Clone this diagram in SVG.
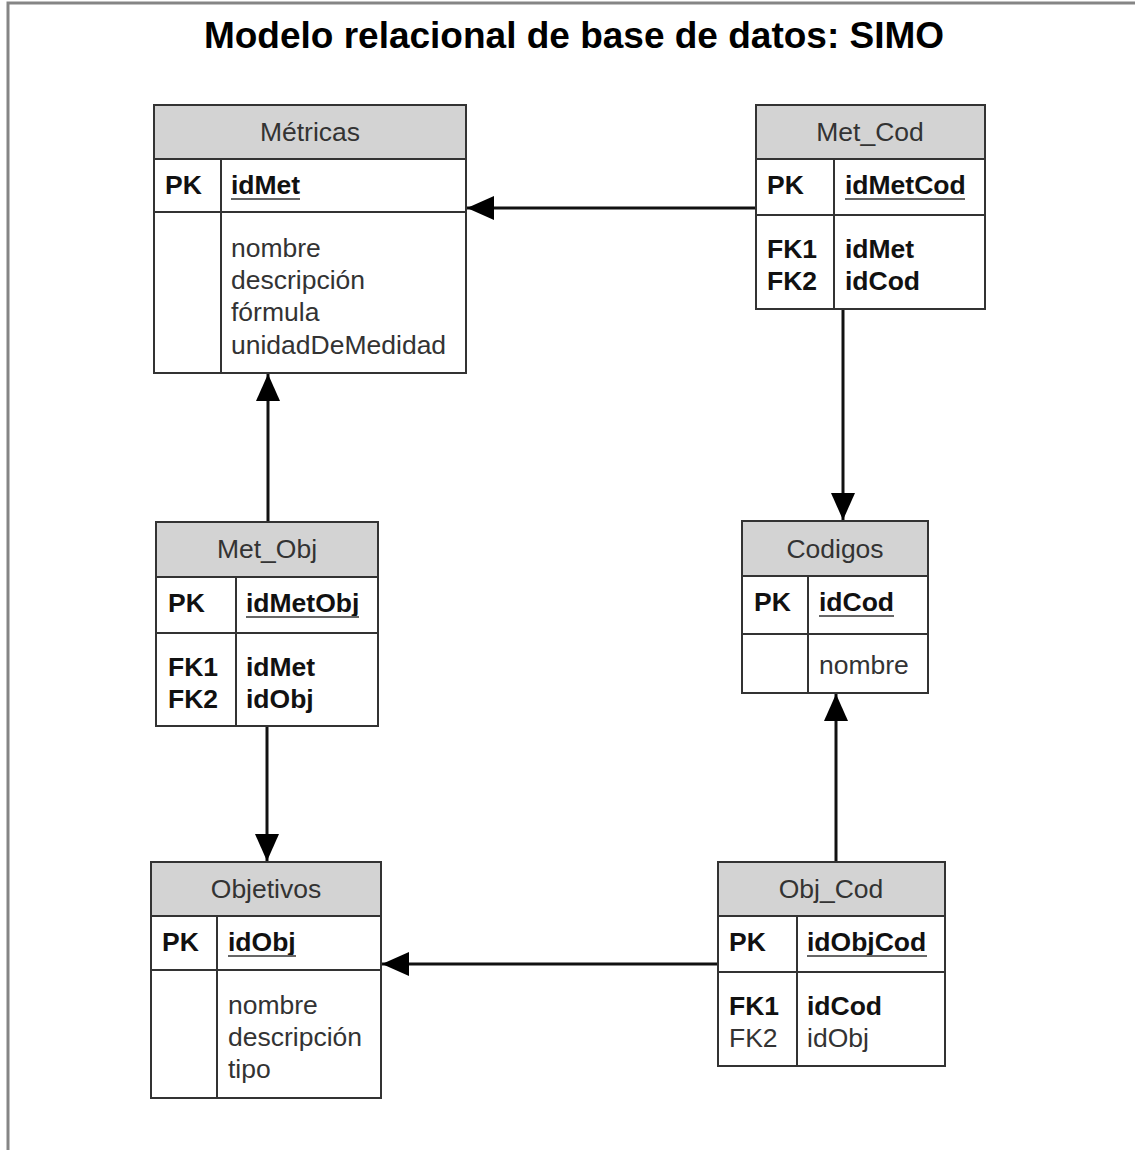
<svg xmlns="http://www.w3.org/2000/svg" width="1135" height="1150" viewBox="0 0 1135 1150">
  <style>
    .hdr { fill: #d3d3d3; stroke: #333; stroke-width: 2; }
    .box { fill: #fff; stroke: #333; stroke-width: 2; }
    .ln { stroke: #333; stroke-width: 2; fill: none; }
    .t { font-family: "Liberation Sans", Arial, sans-serif; font-size: 26.5px; }
    .h { fill: #333; text-anchor: middle; }
    .b { font-weight: bold; fill: #111; }
    .n { fill: #333; }
    .ul { stroke: #666; stroke-width: 2; }
    .conn { stroke: #111; stroke-width: 3; fill: none; }
  </style>
  <defs>
    <marker id="arr" viewBox="0 0 27 24" refX="27" refY="12" markerWidth="27" markerHeight="24" markerUnits="userSpaceOnUse" orient="auto">
      <path d="M0,0 L27,12 L0,24 Z" fill="#000"/>
    </marker>
  </defs>

  <rect width="1135" height="1150" fill="#fff"/>
  <!-- page frame -->
  <path d="M8,1150 V3 H1135" fill="none" stroke="#858585" stroke-width="3"/>

  <text x="574" y="48" text-anchor="middle" font-family="'Liberation Sans', Arial, sans-serif" font-weight="bold" font-size="37" fill="#000">Modelo relacional de base de datos: SIMO</text>

  <!-- relationships -->
  <g id="connectors">
    <line class="conn" x1="756" y1="208" x2="467" y2="208" marker-end="url(#arr)"/>
    <line class="conn" x1="843" y1="309" x2="843" y2="520" marker-end="url(#arr)"/>
    <line class="conn" x1="268" y1="522" x2="268" y2="374" marker-end="url(#arr)"/>
    <line class="conn" x1="267" y1="726" x2="267" y2="861" marker-end="url(#arr)"/>
    <line class="conn" x1="836" y1="862" x2="836" y2="694" marker-end="url(#arr)"/>
    <line class="conn" x1="718" y1="964" x2="382" y2="964" marker-end="url(#arr)"/>
  </g>

  <g id="metricas" class="t">
    <rect class="box" x="154" y="105" width="312" height="268"/>
    <rect class="hdr" x="154" y="105" width="312" height="54"/>
    <line class="ln" x1="154" y1="212" x2="466" y2="212"/>
    <line class="ln" x1="221" y1="159" x2="221" y2="373"/>
    <text class="h" x="310" y="141">Métricas</text>
    <text class="b" x="165" y="194">PK</text>
    <text class="b" x="231" y="194">idMet</text>
    <line class="ul" x1="231" y1="199" x2="300" y2="199"/>
    <text class="n" x="231" y="257">nombre</text>
    <text class="n" x="231" y="289">descripción</text>
    <text class="n" x="231" y="321">fórmula</text>
    <text class="n" x="231" y="354">unidadDeMedidad</text>
  </g>

  <g id="met_cod" class="t">
    <rect class="box" x="756" y="105" width="229" height="204"/>
    <rect class="hdr" x="756" y="105" width="229" height="54"/>
    <line class="ln" x1="756" y1="215" x2="985" y2="215"/>
    <line class="ln" x1="834" y1="159" x2="834" y2="309"/>
    <text class="h" x="870" y="141">Met_Cod</text>
    <text class="b" x="767" y="194">PK</text>
    <text class="b" x="845" y="194">idMetCod</text>
    <line class="ul" x1="845" y1="199" x2="965" y2="199"/>
    <text class="b" x="767" y="258">FK1</text>
    <text class="b" x="767" y="290">FK2</text>
    <text class="b" x="845" y="258">idMet</text>
    <text class="b" x="845" y="290">idCod</text>
  </g>

  <g id="met_obj" class="t">
    <rect class="box" x="156" y="522" width="222" height="204"/>
    <rect class="hdr" x="156" y="522" width="222" height="55"/>
    <line class="ln" x1="156" y1="633" x2="378" y2="633"/>
    <line class="ln" x1="236" y1="577" x2="236" y2="726"/>
    <text class="h" x="267" y="558">Met_Obj</text>
    <text class="b" x="168" y="612">PK</text>
    <text class="b" x="246" y="612">idMetObj</text>
    <line class="ul" x1="246" y1="617" x2="359" y2="617"/>
    <text class="b" x="168" y="676">FK1</text>
    <text class="b" x="168" y="708">FK2</text>
    <text class="b" x="246" y="676">idMet</text>
    <text class="b" x="246" y="708">idObj</text>
  </g>

  <g id="codigos" class="t">
    <rect class="box" x="742" y="521" width="186" height="172"/>
    <rect class="hdr" x="742" y="521" width="186" height="55"/>
    <line class="ln" x1="742" y1="634" x2="928" y2="634"/>
    <line class="ln" x1="808" y1="576" x2="808" y2="693"/>
    <text class="h" x="835" y="558">Codigos</text>
    <text class="b" x="754" y="611">PK</text>
    <text class="b" x="819" y="611">idCod</text>
    <line class="ul" x1="819" y1="616" x2="894" y2="616"/>
    <text class="n" x="819" y="674">nombre</text>
  </g>

  <g id="objetivos" class="t">
    <rect class="box" x="151" y="862" width="230" height="236"/>
    <rect class="hdr" x="151" y="862" width="230" height="54"/>
    <line class="ln" x1="151" y1="970" x2="381" y2="970"/>
    <line class="ln" x1="217" y1="916" x2="217" y2="1098"/>
    <text class="h" x="266" y="898">Objetivos</text>
    <text class="b" x="162" y="951">PK</text>
    <text class="b" x="228" y="951">idObj</text>
    <line class="ul" x1="228" y1="956" x2="296" y2="956"/>
    <text class="n" x="228" y="1014">nombre</text>
    <text class="n" x="228" y="1046">descripción</text>
    <text class="n" x="228" y="1078">tipo</text>
  </g>

  <g id="obj_cod" class="t">
    <rect class="box" x="718" y="862" width="227" height="204"/>
    <rect class="hdr" x="718" y="862" width="227" height="54"/>
    <line class="ln" x1="718" y1="972" x2="945" y2="972"/>
    <line class="ln" x1="797" y1="916" x2="797" y2="1066"/>
    <text class="h" x="831" y="898">Obj_Cod</text>
    <text class="b" x="729" y="951">PK</text>
    <text class="b" x="807" y="951">idObjCod</text>
    <line class="ul" x1="807" y1="956" x2="927" y2="956"/>
    <text class="b" x="729" y="1015">FK1</text>
    <text class="n" x="729" y="1047">FK2</text>
    <text class="b" x="807" y="1015">idCod</text>
    <text class="n" x="807" y="1047">idObj</text>
  </g>
</svg>
